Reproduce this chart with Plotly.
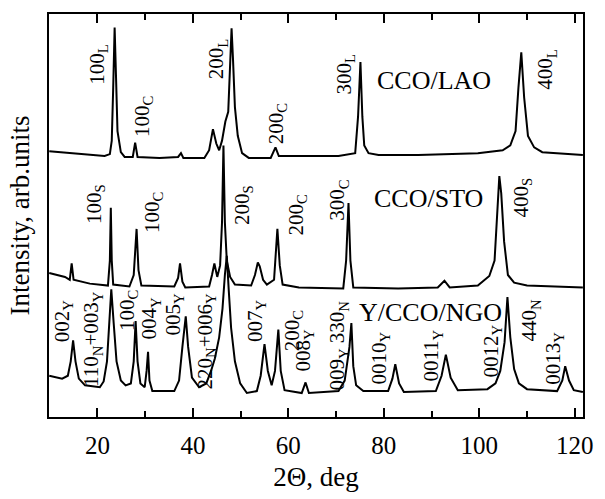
import plotly.graph_objects as go

# ---- data (2Theta in deg, intensity in arb. units) ----
lao_x = [9.9, 14.2, 18.4, 21.5, 22.6, 23.0, 23.3, 23.6, 23.9, 24.2, 24.9, 25.7, 27.4, 27.9, 28.4,
         33.0, 36.9, 37.5, 38.0, 42.4, 43.4, 44.2, 44.9, 45.5, 46.1, 46.8, 47.4, 47.8, 48.1, 48.4,
         48.8, 49.4, 50.3, 51.7, 56.3, 57.3, 58.0, 62.2, 70.5, 74.0, 74.6, 75.1, 75.5, 75.9, 76.8,
         78.9, 87.2, 99.7, 104.9, 106.5, 107.6, 108.2, 108.8, 109.4, 110.2, 111.5, 113.2, 121.7]
lao_y = [277, 275, 273, 272, 274, 288, 343, 406, 353, 298, 276, 271, 271, 286, 271,
         270, 271, 275, 270, 270, 278, 300, 285, 278, 288, 308, 318, 373, 405, 373,
         323, 293, 275, 270, 270, 281, 272, 272, 272, 275, 313, 370, 313, 283, 275,
         273, 273, 275, 278, 283, 298, 343, 380, 333, 293, 281, 276, 273]

sto_x = [9.9, 13.2, 14.2, 14.6, 15.0, 18.4, 22.2, 22.6, 22.8, 23.0, 23.3, 26.7, 27.6, 28.2, 28.6,
         29.2, 36.1, 36.9, 37.3, 37.8, 38.4, 43.4, 44.0, 44.5, 45.1, 45.7, 46.1, 46.4, 46.7, 47.1,
         47.8, 48.8, 52.2, 53.0, 53.6, 54.0, 54.7, 55.5, 57.0, 57.7, 58.2, 58.8, 62.2, 71.5, 72.1,
         72.6, 73.0, 73.6, 83.0, 91.3, 92.7, 93.8, 99.7, 102.1, 103.2, 103.8, 104.2, 104.6, 105.2,
         106.0, 107.3, 110.0, 121.7]
sto_y = [150, 146, 143, 160, 143, 139, 137, 163, 218, 163, 138, 136, 148, 196, 153,
         137, 136, 145, 160, 141, 135, 136, 148, 160, 146, 158, 203, 283, 203, 163,
         146, 138, 137, 148, 161, 157, 143, 138, 143, 196, 158, 138, 135, 134, 163,
         223, 163, 135, 134, 135, 142, 135, 137, 147, 163, 213, 251, 233, 183,
         148, 140, 137, 135]

ngo_x = [9.9, 12.6, 13.8, 14.4, 14.9, 15.4, 16.1, 17.4, 20.5, 21.3, 22.0, 22.5, 22.9, 23.4, 24.0,
         24.9, 25.9, 27.0, 27.6, 28.0, 28.4, 29.0, 29.9, 30.3, 30.6, 30.9, 31.5, 36.1, 37.1, 37.8,
         38.5, 39.0, 39.8, 41.3, 42.8, 43.8, 44.6, 45.5, 46.2, 46.7, 47.1, 47.5, 48.0, 48.8, 49.9,
         51.3, 53.4, 54.2, 55.0, 55.7, 56.5, 57.2, 57.9, 58.4, 59.2, 62.8, 63.6, 64.3, 70.5, 71.8,
         72.4, 72.8, 73.2, 73.6, 74.2, 75.7, 80.9, 81.8, 82.4, 83.2, 84.2, 90.9, 92.1, 93.0, 94.0,
         95.5, 101.7, 103.4, 104.4, 105.3, 105.9, 106.5, 107.3, 108.3, 110.0, 116.3, 117.4, 118.0,
         118.8, 119.8, 121.7]
ngo_y = [43, 40, 43, 58, 80, 58, 40, 33, 31, 37, 58, 98, 133, 98, 58,
         38, 33, 35, 58, 100, 58, 35, 31, 48, 68, 38, 27, 27, 38, 73,
         105, 73, 41, 31, 35, 48, 61, 83, 113, 148, 168, 133, 93, 58, 35,
         25, 27, 43, 76, 48, 33, 48, 91, 48, 28, 25, 36, 25, 27, 38,
         60, 73, 98, 53, 33, 27, 27, 40, 55, 35, 26, 27, 43, 65, 41,
         28, 29, 35, 48, 78, 125, 83, 50, 35, 29, 27, 38, 53,
         38, 28, 26]

# peak labels: text, x (deg), y (arb. units)
peak_text = ["100<sub>L</sub>", "100<sub>C</sub>", "200<sub>L</sub>", "200<sub>C</sub>", "300<sub>L</sub>", "400<sub>L</sub>",
             "100<sub>S</sub>", "100<sub>C</sub>", "200<sub>S</sub>", "200<sub>C</sub>", "300<sub>C</sub>", "400<sub>S</sub>",
             "002<sub>Y</sub>", "110<sub>N</sub>+003<sub>Y</sub>", "100<sub>C</sub>", "004<sub>Y</sub>", "005<sub>Y</sub>",
             "220<sub>N</sub>+006<sub>Y</sub>", "007<sub>Y</sub>", "200<sub>C</sub>", "008<sub>Y</sub>",
             "009<sub>Y</sub> 330<sub>N</sub>", "0010<sub>Y</sub>", "0011<sub>Y</sub>", "0012<sub>Y</sub>",
             "440<sub>N</sub>", "0013<sub>Y</sub>"]
peak_x = [20.1, 29.4, 45.1, 57.6, 71.9, 114.0,
          19.5, 31.5, 50.5, 61.6, 70.5, 109.0,
          12.8, 19.0, 26.5, 31.1, 36.1,
          42.8, 53.2, 60.9, 63.2,
          70.5, 79.2, 90.1, 102.6,
          110.7, 115.7]
peak_y = [368, 313, 373, 306, 357, 362,
          222, 213, 221, 210, 226, 229,
          100, 81, 111, 103, 107,
          79, 101, 90, 70,
          75, 61, 64, 69,
          101, 61]

sample_text = ["CCO/LAO", "CCO/STO", "Y/CCO/NGO"]
sample_x = [90.5, 89.3, 89.7]
sample_y = [351, 228, 109]

FONT = "Liberation Serif, Times New Roman, serif"

fig = go.Figure()
for xs, ys in [(lao_x, lao_y), (sto_x, sto_y), (ngo_x, ngo_y)]:
    fig.add_trace(go.Scatter(x=xs, y=ys, mode="lines",
                             line=dict(color="black", width=2),
                             showlegend=False, hoverinfo="skip"))

for t, x, y in zip(peak_text, peak_x, peak_y):
    fig.add_annotation(x=x, y=y, xref="x", yref="y", text=t, textangle=-90,
                       showarrow=False, font=dict(family=FONT, size=21, color="black"))
for t, x, y in zip(sample_text, sample_x, sample_y):
    fig.add_annotation(x=x, y=y, xref="x", yref="y", text=t,
                       showarrow=False, font=dict(family=FONT, size=26, color="black"))

fig.update_layout(
    width=605, height=499,
    margin=dict(l=49, r=19, t=13, b=66),
    paper_bgcolor="white", plot_bgcolor="white",
    font=dict(family=FONT, color="black"),
)
fig.update_xaxes(
    range=[9.85, 121.73], showgrid=False, zeroline=False,
    showline=True, linecolor="black", linewidth=2, mirror="ticks",
    ticks="inside", ticklen=9, tickwidth=1.5, tickcolor="black",
    dtick=20, tick0=0, ticklabelstandoff=5,
    tickfont=dict(family=FONT, size=25, color="black"),
    minor=dict(dtick=10, tick0=0, ticks="inside", ticklen=6, tickwidth=1.5, tickcolor="black", showgrid=False),
    title=dict(text="2Θ, deg", font=dict(family=FONT, size=27, color="black"), standoff=9),
)
fig.update_yaxes(
    range=[0, 420], showgrid=False, zeroline=False,
    showline=True, linecolor="black", linewidth=2, mirror=True,
    ticks="", showticklabels=False,
    title=dict(text="Intensity, arb.units", font=dict(family=FONT, size=27, color="black"), standoff=10),
)

fig.write_html("out.html")
